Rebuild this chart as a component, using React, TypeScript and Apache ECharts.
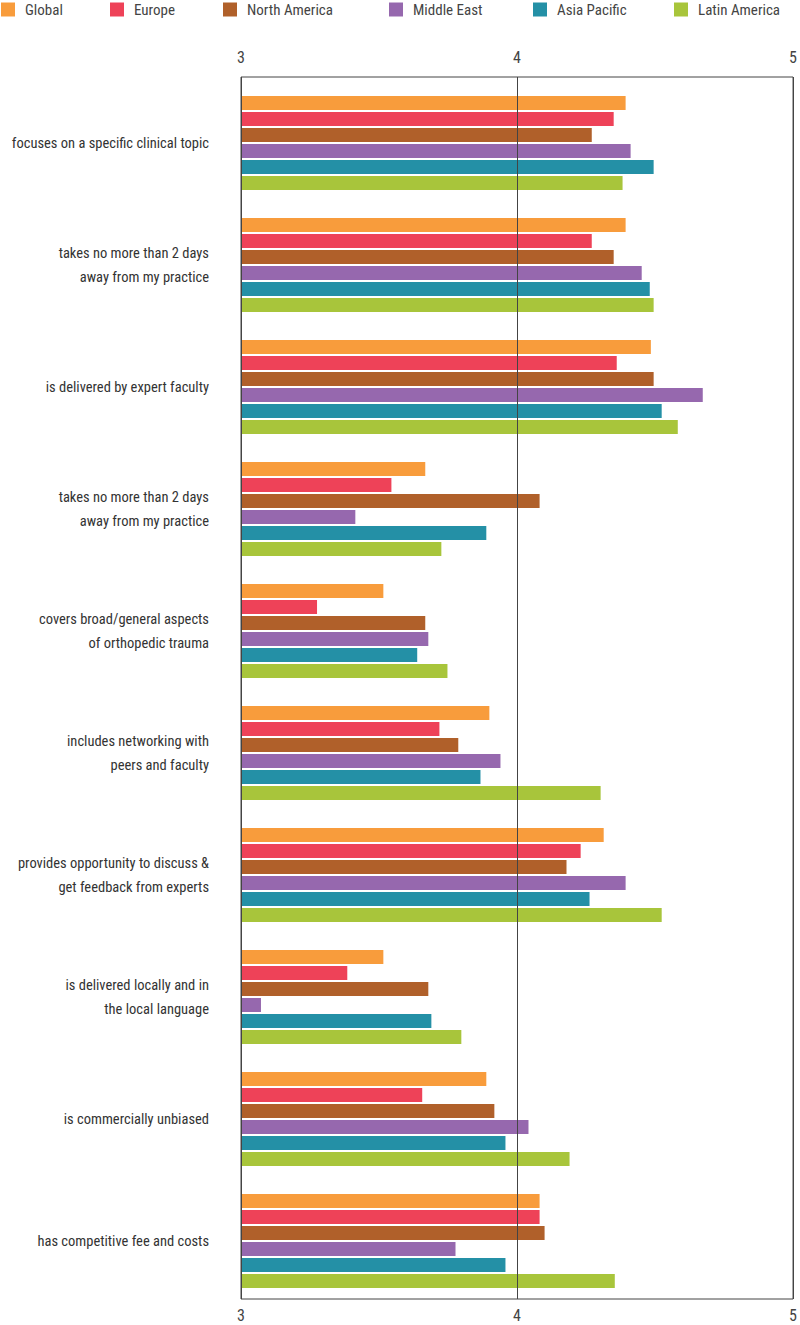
import React, { useEffect, useRef } from "react";
import * as echarts from "echarts";

const categories = [
  "focuses on a specific clinical topic",
  "takes no more than 2 days\naway from my practice",
  "is delivered by expert faculty",
  "takes no more than 2 days\naway from my practice",
  "covers broad/general aspects\nof orthopedic trauma",
  "includes networking with\npeers and faculty",
  "provides opportunity to discuss &\nget feedback from experts",
  "is delivered locally and in\nthe local language",
  "is commercially unbiased",
  "has competitive fee and costs",
];

const seriesNames = ["Global", "Europe", "North America", "Middle East", "Asia Pacific", "Latin America"];
const seriesColors = ["#F89C3C", "#EE4258", "#B0602A", "#9668AE", "#2490A6", "#A8C53B"];

const globalVals = [4.386, 4.386, 4.477, 3.664, 3.513, 3.895, 4.307, 3.513, 3.884, 4.076];
const europeVals = [4.343, 4.264, 4.354, 3.542, 3.274, 3.715, 4.224, 3.383, 3.653, 4.076];
const northAmericaVals = [4.264, 4.343, 4.487, 4.076, 3.664, 3.783, 4.173, 3.675, 3.913, 4.094];
const middleEastVals = [4.404, 4.444, 4.664, 3.412, 3.675, 3.935, 4.386, 3.072, 4.036, 3.773];
const asiaPacificVals = [4.487, 4.473, 4.516, 3.884, 3.635, 3.863, 4.256, 3.686, 3.953, 3.953];
const latinAmericaVals = [4.375, 4.487, 4.574, 3.722, 3.744, 4.296, 4.516, 3.794, 4.184, 4.347];

const allVals = [globalVals, europeVals, northAmericaVals, middleEastVals, asiaPacificVals, latinAmericaVals];

const tickMin = 3;
const tickMax = 5;
const tickInterval = 1;

const FONT = "'Liberation Sans Narrow', 'Roboto Condensed', Lato, 'Noto Sans', sans-serif";
const legendLefts = [1, 110, 223, 389, 533, 674];

export default function App() {
  const ref = useRef<HTMLDivElement>(null);
  useEffect(() => {
    if (!ref.current) return;
    const chart = echarts.init(ref.current, undefined, { renderer: "svg" });
    chart.setOption({
      animation: false,
      backgroundColor: "#ffffff",
      legend: seriesNames.map((name, i) => ({
        top: 0,
        left: legendLefts[i],
        padding: [2, 0, 2, 0],
        itemWidth: 14,
        itemHeight: 14,
        icon: "rect",
        data: [name],
        textStyle: { fontSize: 15, color: "#444", fontFamily: FONT, padding: [0, 0, 0, 5] },
      })),
      grid: [
        { left: 241, right: 4, top: 82, bottom: 23 },
        { left: 241, right: 4, top: 77, bottom: 26, show: true, borderColor: "#444", borderWidth: 1, backgroundColor: "transparent" },
      ],
      xAxis: [
        { type: "value", gridIndex: 0, min: tickMin, max: tickMax, interval: tickInterval, show: false },
        {
          type: "value", gridIndex: 1, position: "top", min: tickMin, max: tickMax, interval: tickInterval, z: 10,
          axisLine: { show: false }, axisTick: { show: false },
          splitLine: { show: true, lineStyle: { color: "#444", width: 1 } },
          axisLabel: { margin: 12, fontSize: 16, color: "#444", fontFamily: FONT },
        },
        {
          type: "value", gridIndex: 1, position: "bottom", min: tickMin, max: tickMax, interval: tickInterval,
          axisLine: { show: false }, axisTick: { show: false }, splitLine: { show: false },
          axisLabel: { margin: 8, fontSize: 16, color: "#444", fontFamily: FONT },
        },
      ],
      yAxis: [
        {
          type: "category", gridIndex: 0, data: categories, inverse: true,
          axisLine: { show: false }, axisTick: { show: false },
          axisLabel: { margin: 32, fontSize: 14.5, lineHeight: 24, color: "#333", fontFamily: FONT, align: "right" },
        },
        { type: "value", gridIndex: 1, show: false },
      ],
      series: seriesNames.map((name, i) => ({
        name,
        type: "bar",
        xAxisIndex: 0,
        yAxisIndex: 0,
        data: allVals[i],
        barWidth: 14,
        barGap: "14%",
        itemStyle: { color: seriesColors[i] },
        silent: true,
      })),
    });
    return () => chart.dispose();
  }, []);
  return <div ref={ref} style={{ width: 800, height: 1325, position: "absolute", left: 0, top: 0 }} />;
}
